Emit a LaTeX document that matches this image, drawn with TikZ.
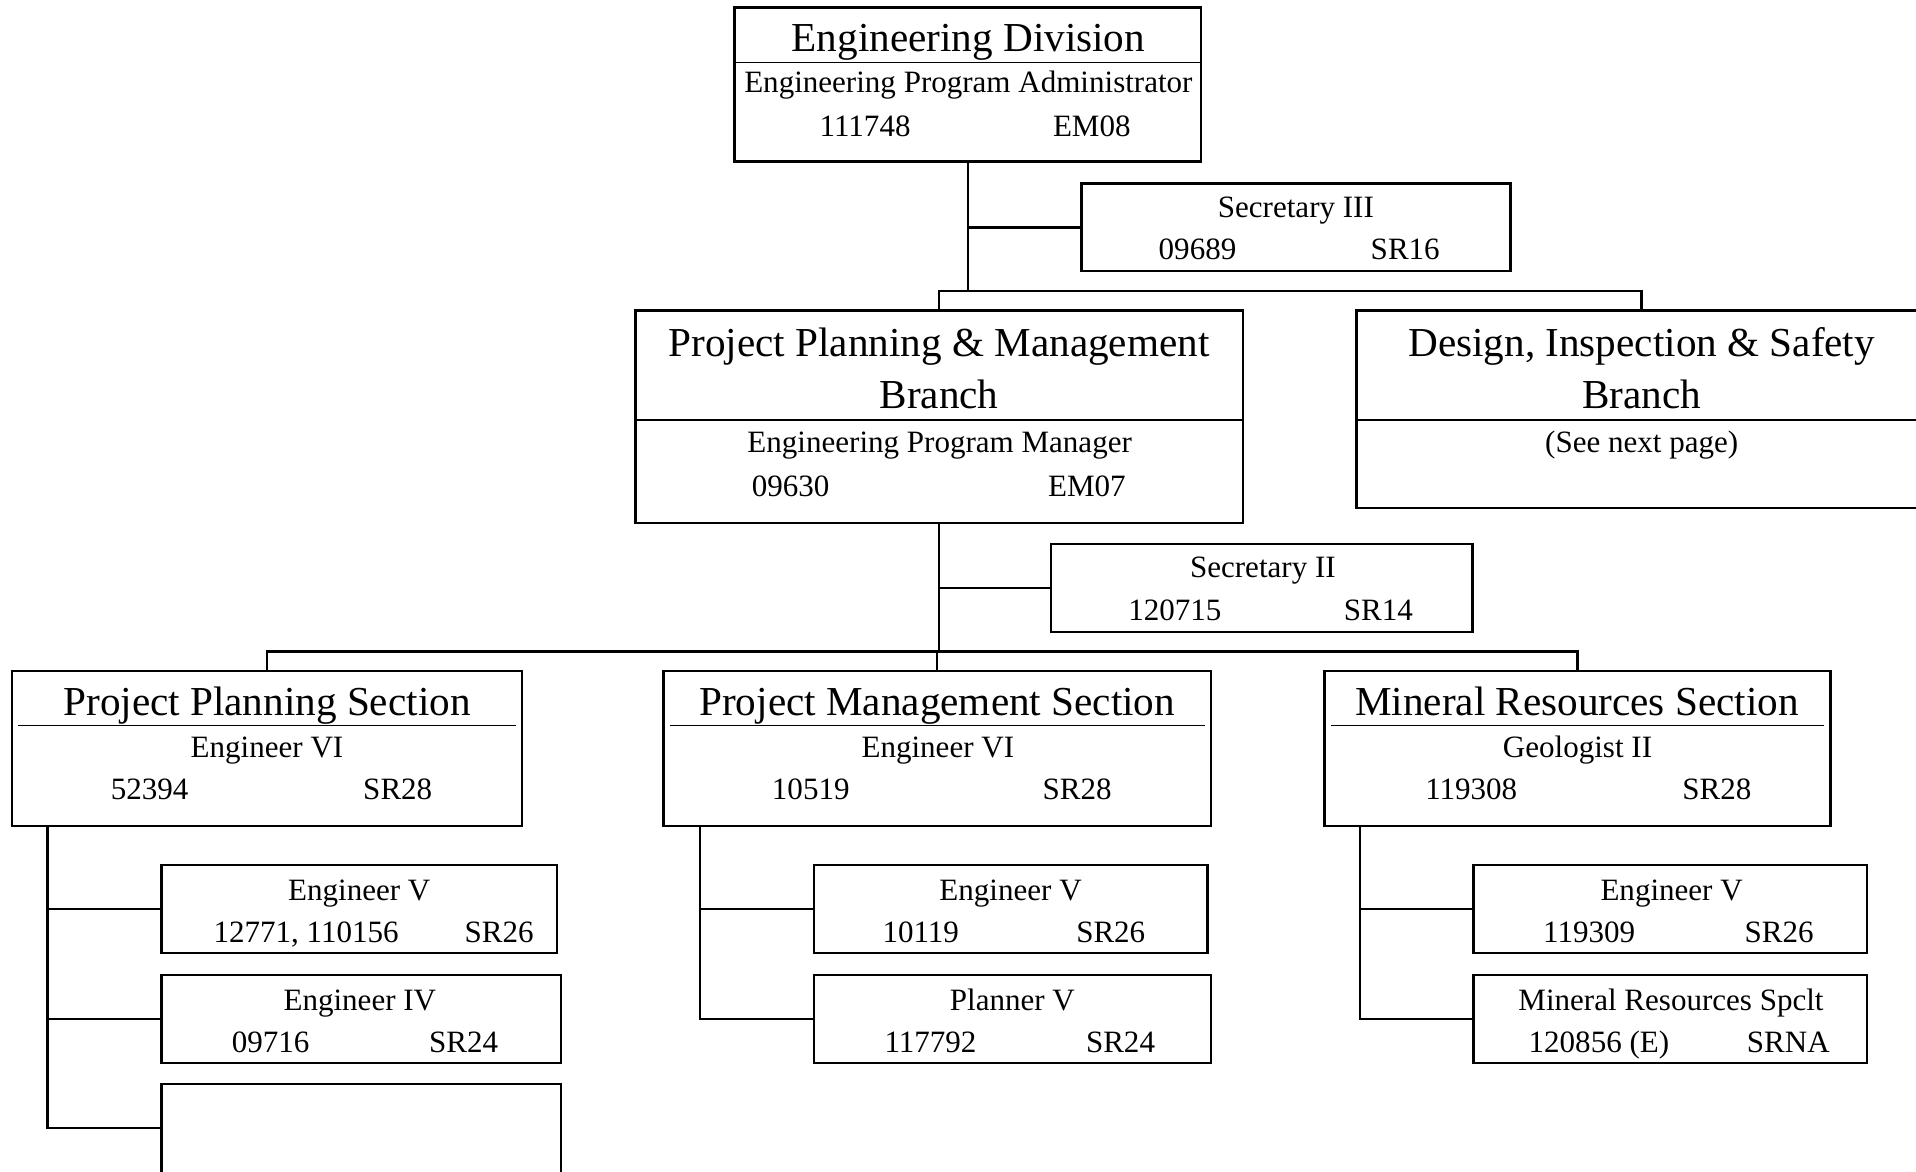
\documentclass[tikz,border=0pt]{standalone}
\usepackage{fontspec}
\setmainfont{Liberation Serif}
\usetikzlibrary{fit}
\newcommand\mybigfont{\fontsize{16.85}{20}\selectfont}
\newcommand\mysmallfont{\fontsize{12.7}{15}\selectfont}
\tikzset{
  box/.style={draw, line width=1pt, inner sep=0pt, rectangle},
  conn/.style={line width=1pt},
  thinrule/.style={line width=0.4pt},
  midrule/.style={line width=0.8pt},
  bigt/.style={font=\mybigfont, anchor=base, inner sep=0pt, yshift=-0.5pt},
  smt/.style={font=\mysmallfont, anchor=base, inner sep=0pt, yshift=-0.5pt},
}
\begin{document}
\begin{tikzpicture}[x=0.5pt,y=-0.5pt]
\useasboundingbox (0,0) rectangle (1568,959);
\clip (0,0) rectangle (1568,959);

% ---------- Engineering Division ----------
\node[box, fit={(601,6)(983,132)}] (ed) {};
\draw[thinrule] (ed.west |- 0,51) -- (ed.east |- 0,51);
\node[bigt] (edt) at (792.5,41.5) {Engineering Division};
\node[smt] (eda) at (792.5,75) {Engineering Program Administrator};
\node[smt] (edn) at (708,110.5) {111748};
\node[smt] (edg) at (893.5,110.5) {EM08};

% ---------- Secretary III ----------
\node[box, fit={(885,150)(1236,222)}] (s3) {};
\node[smt] (s3t) at (1060.5,177) {Secretary III};
\node[smt] (s3n) at (980,211) {09689};
\node[smt] (s3g) at (1150,211) {SR16};

% ---------- Project Planning & Management Branch ----------
\node[box, fit={(520,254)(1017,428)}] (ppm) {};
\draw[midrule] (ppm.west |- 0,344) -- (ppm.east |- 0,344);
\node[bigt] (ppmt1) at (768.5,290.5) {Project Planning \& Management};
\node[bigt] (ppmt2) at (768.5,333.3) {Branch};
\node[smt] (ppma) at (769,369.6) {Engineering Program Manager};
\node[smt] (ppmn) at (647,405) {09630};
\node[smt] (ppmg) at (889.5,405) {EM07};

% ---------- Design, Inspection & Safety Branch ----------
\node[box, fit={(1110,254)(1577,415.5)}] (dis) {};
\draw[midrule] (dis.west |- 0,344) -- (dis.east |- 0,344);
\node[bigt] (dist1) at (1343.5,290.5) {Design, Inspection \& Safety};
\node[bigt] (dist2) at (1343.5,333.3) {Branch};
\node[smt] (disa) at (1343.5,369.6) {(See next page)};

% ---------- Secretary II ----------
\node[box, fit={(860,445)(1205,517)}] (s2) {};
\node[smt] (s2t) at (1033.5,472) {Secretary II};
\node[smt] (s2n) at (961.5,506.8) {120715};
\node[smt] (s2g) at (1128,506.8) {SR14};

% ---------- Sections ----------
\node[box, fit={(10,549)(427,676)}] (pps) {};
\draw[thinrule] (15,594) -- (422,594);
\node[bigt] (ppst) at (218.5,584.2) {Project Planning Section};
\node[smt] (ppsa) at (218.5,619) {Engineer VI};
\node[smt] (ppsn) at (122.5,653.6) {52394};
\node[smt] (ppsg) at (325.5,653.6) {SR28};

\node[box, fit={(543,549)(991,676)}] (pms) {};
\draw[thinrule] (548,594) -- (986,594);
\node[bigt] (pmst) at (767,584.2) {Project Management Section};
\node[smt] (pmsa) at (767.5,619) {Engineer VI};
\node[smt] (pmsn) at (663.5,653.6) {10519};
\node[smt] (pmsg) at (881.5,653.6) {SR28};

\node[box, fit={(1084,549)(1498,676)}] (mrs) {};
\draw[thinrule] (1089,594) -- (1493,594);
\node[bigt] (mrst) at (1290.5,584.2) {Mineral Resources Section};
\node[smt] (mrsa) at (1291,619) {Geologist II};
\node[smt] (mrsn) at (1204,653.6) {119308};
\node[smt] (mrsg) at (1405,653.6) {SR28};

% ---------- Planning children ----------
\node[box, fit={(132,708)(456,780)}] (p1) {};
\node[smt] (p1t) at (294,736) {Engineer V};
\node[smt] (p1n) at (250.5,770.1) {12771, 110156};
\node[smt] (p1g) at (408.5,770.1) {SR26};

\node[box, fit={(132,798)(459,870)}] (p2) {};
\node[smt] (p2t) at (294.5,826) {Engineer IV};
\node[smt] (p2n) at (221.5,860) {09716};
\node[smt] (p2g) at (379.5,860) {SR24};

\node[box, fit={(132,887)(459,961)}] (p3) {};

% ---------- Management children ----------
\node[box, fit={(666,708)(988,780)}] (m1) {};
\node[smt] (m1t) at (827,736) {Engineer V};
\node[smt] (m1n) at (753.5,770.1) {10119};
\node[smt] (m1g) at (909,770.1) {SR26};

\node[box, fit={(666,798)(991,870)}] (m2) {};
\node[smt] (m2t) at (828.5,826) {Planner V};
\node[smt] (m2n) at (761.5,860) {117792};
\node[smt] (m2g) at (917,860) {SR24};

% ---------- Mineral children ----------
\node[box, fit={(1206,708)(1528,780)}] (r1) {};
\node[smt] (r1t) at (1368,736) {Engineer V};
\node[smt] (r1n) at (1300.5,770.1) {119309};
\node[smt] (r1g) at (1456,770.1) {SR26};

\node[box, fit={(1206,798)(1528,870)}] (r2) {};
\node[smt] (r2t) at (1367.5,826) {Mineral Resources Spclt};
\node[smt] (r2n) at (1308.5,860) {120856 (E)};
\node[smt] (r2g) at (1463.5,860) {SRNA};

% ---------- Connectors ----------
\coordinate (bus1) at (793,238);
\coordinate (bus2) at (768,533);
\draw[conn] (ed.south) -- (ed.south |- bus1);
\draw[conn] (ed.south |- s3.west) -- (s3.west);
\draw[conn] (ppm.north) -- (ppm.north |- bus1) -- (dis.north |- bus1) -- (dis.north);

\draw[conn] (ppm.south) -- (ppm.south |- bus2);
\draw[conn] (ppm.south |- s2.west) -- (s2.west);
\draw[conn] (pps.north) -- (pps.north |- bus2) -- (mrs.north |- bus2) -- (mrs.north);
\draw[conn] (pms.north) -- (pms.north |- bus2);

\coordinate (ppsv) at ([xshift=15pt]pps.south west);
\coordinate (pmsv) at ([xshift=15.5pt]pms.south west);
\coordinate (mrsv) at ([xshift=15pt]mrs.south west);

\draw[conn] (ppsv) -- (ppsv |- 0,923) -- (p3.west |- 0,923);
\draw[conn] (ppsv |- p1.west) -- (p1.west);
\draw[conn] (ppsv |- p2.west) -- (p2.west);

\draw[conn] (pmsv) |- (m2.west);
\draw[conn] (pmsv |- m1.west) -- (m1.west);

\draw[conn] (mrsv) |- (r2.west);
\draw[conn] (mrsv |- r1.west) -- (r1.west);
\end{tikzpicture}
\end{document}
